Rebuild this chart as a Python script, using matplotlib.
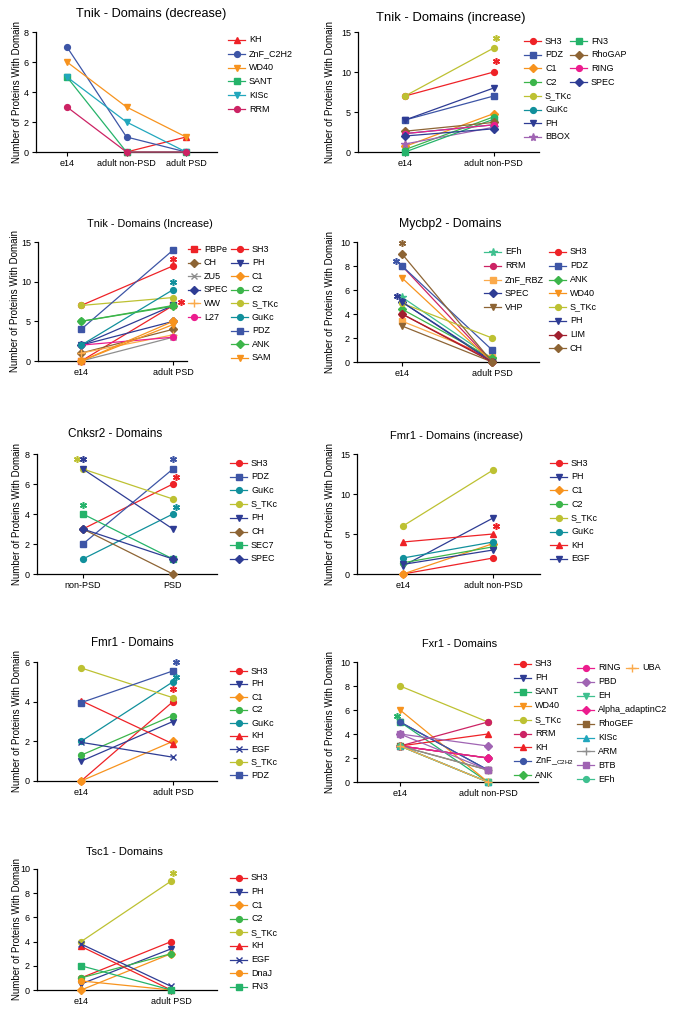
import numpy as np
import matplotlib.pyplot as plt
from matplotlib.lines import Line2D

plt.rcParams['font.family'] = ['Liberation Sans', 'DejaVu Sans']

nan = np.nan

# ---------------- data ----------------
tnik_dec_cats = ["e14", "adult non-PSD", "adult PSD"]
tnik_dec_domains = ["KH", "ZnF_C2H2", "WD40", "SANT", "KISc", "RRM"]
tnik_dec_counts = [[nan, 0, 1], [7, 1, 0], [6, 3, 1], [5, 0, 0], [5, 2, 0], [3, 0, 0]]
tnik_dec_stars = []

tnik_inc_cats = ["e14", "adult non-PSD"]
tnik_inc_domains = ["SH3", "PDZ", "C1", "C2", "S_TKc", "GuKc", "PH", "BBOX",
                    "FN3", "RhoGAP", "RING", "SPEC"]
tnik_inc_counts = [[7, 10], [4, 7], [0.7, 4.8], [0.3, 4.4], [7, 13], [2.3, 3.4],
                   [4, 8], [1, 3.1], [0, 4.1], [2.6, 3.7], [2.3, 3.4], [2, 2.9]]
tnik_inc_stars = [(1.02, 14.3, "S_TKc"), (1.03, 11.4, "SH3")]

tnik_psd_cats = ["e14", "adult PSD"]
tnik_psd_domains = ["PBPe", "CH", "ZU5", "SPEC", "WW", "L27",
                    "SH3", "PH", "C1", "C2", "S_TKc", "GuKc", "PDZ", "ANK", "SAM"]
tnik_psd_counts = [[0, 7], [1, 4], [0, 3], [2, 5], [1, 3.3], [2, 3],
                   [7, 12], [2, 7], [0, 5], [5, 7], [7, 8], [2, 9], [4, 14], [5, 6.9], [0, 4.6]]
tnik_psd_stars = [(1.0, 12.9, "SH3"), (1.0, 10.0, "GuKc"), (1.08, 7.4, "PBPe")]

mycbp2_cats = ["e14", "adult PSD"]
mycbp2_domains = ["EFh", "RRM", "ZnF_RBZ", "SPEC", "VHP",
                  "SH3", "PDZ", "ANK", "WD40", "S_TKc", "PH", "LIM", "CH"]
mycbp2_counts = [[5.4, 0.3], [8, 0], [3.4, 0.4], [5, 0.1], [3, 0],
                 [4, 0.1], [8, 1], [4.4, 0.3], [7, 0], [4.9, 2], [5, 0], [4, 0], [9, 0]]
mycbp2_stars = [(0.0, 9.9, "CH"), (-0.07, 8.4, "PDZ"), (-0.06, 5.5, "PH")]

cnksr2_cats = ["non-PSD", "PSD"]
cnksr2_domains = ["SH3", "PDZ", "GuKc", "S_TKc", "PH", "CH", "SEC7", "SPEC"]
cnksr2_counts = [[3, 6], [2, 7], [1, 4], [7, 5], [7, 3], [3, 0], [4, 1], [3, 1]]
cnksr2_stars = [(-0.07, 7.7, "S_TKc"), (0.0, 7.7, "PH"), (1.0, 7.7, "PDZ"),
                (1.03, 6.5, "SH3"), (1.03, 4.5, "GuKc"), (0.0, 4.6, "SEC7")]

fmr1_inc_cats = ["e14", "adult non-PSD"]
fmr1_inc_domains = ["SH3", "PH", "C1", "C2", "S_TKc", "GuKc", "KH", "EGF"]
fmr1_inc_counts = [[0, 2], [1, 7], [0, 3.8], [1.4, 3.4], [6, 13], [2, 4], [4, 5], [1.2, 3]]
fmr1_inc_stars = [(1.03, 6.0, "KH")]

fmr1_cats = ["e14", "adult PSD"]
fmr1_domains = ["SH3", "PH", "C1", "C2", "GuKc", "KH", "EGF", "S_TKc", "PDZ"]
fmr1_counts = [[0, 4], [1, 3], [0, 2], [1.3, 3.3], [2, 5], [4.05, 1.87],
               [1.95, 1.2], [5.7, 4.2], [3.95, 5.55]]
fmr1_stars = [(1.03, 6.0, "PDZ"), (1.03, 5.25, "GuKc"), (1.0, 4.65, "KH")]

fxr1_cats = ["e14", "adult non-PSD"]
fxr1_domains = ["SH3", "PH", "SANT", "WD40", "S_TKc", "RRM", "KH", "ZnF_C2H2", "ANK",
                "RING", "PBD", "EH", "Alpha_adaptinC2", "RhoGEF", "KISc", "ARM", "BTB", "EFh",
                "UBA"]
fxr1_counts = [[3, 2], [5, 1], [5, 0], [6, 0], [8, 5], [3, 5], [3, 4], [5, 1], [3, 2],
               [3, 2], [4, 3], [3, 0], [3, 2], [3, 1], [3, 0], [3, 1], [4, 1], [3, 0],
               [3, 0]]
fxr1_stars = [(-0.04, 5.5, "SANT")]

tsc1_cats = ["e14", "adult PSD"]
tsc1_domains = ["SH3", "PH", "C1", "C2", "S_TKc", "KH", "EGF", "DnaJ", "FN3"]
tsc1_counts = [[1, 4], [0.5, 3.4], [0, 3], [1, 3], [4, 9], [3.6, 0], [3.8, 0.3], [0.75, 0], [2, 0]]
tsc1_stars = [(1.02, 9.7, "S_TKc")]

# ---------------- styles ----------------
RED = '#EE2227'
NAVY = '#2E3C94'
BLUE = '#3D55A6'
ORANGE = '#F7931E'
LORANGE = '#FBAA4B'
GREEN = '#3CB54A'
SEAGREEN = '#25B36A'
MINT = '#3FC08F'
OLIVE = '#BDC132'
TEAL = '#11909C'
CYAN = '#22A7BD'
CRIMSON = '#CC2364'
PINK = '#EC1C8E'
BROWN = '#8D6434'
PURPLE = '#A064B3'
DARKRED = '#A0202E'
GRAY = '#8E8E8E'

STYLE = {
    "SH3": (RED, 'o'), "PDZ": (BLUE, 's'), "C1": (ORANGE, 'D'), "C2": (GREEN, 'o'),
    "S_TKc": (OLIVE, 'o'), "GuKc": (TEAL, 'o'), "PH": (NAVY, 'v'), "BBOX": (PURPLE, '*'),
    "FN3": (SEAGREEN, 's'), "RhoGAP": (BROWN, 'D'), "RING": (PINK, 'o'), "SPEC": (NAVY, 'D'),
    "KH": (RED, '^'), "ZnF_C2H2": (BLUE, 'o'), "WD40": (ORANGE, 'v'), "SANT": (SEAGREEN, 's'),
    "KISc": (CYAN, 'v'), "RRM": (CRIMSON, 'o'), "PBPe": (RED, 's'), "CH": (BROWN, 'D'),
    "ZU5": (GRAY, 'x'), "WW": (LORANGE, '+'), "L27": (PINK, 'o'), "ANK": (GREEN, 'D'),
    "SAM": (ORANGE, 'v'), "EFh": (MINT, '*'), "ZnF_RBZ": (LORANGE, 's'), "VHP": (BROWN, 'v'),
    "LIM": (DARKRED, 'D'), "SEC7": (SEAGREEN, 's'), "EGF": (NAVY, 'x'), "DnaJ": (ORANGE, 'o'),
    "PBD": (PURPLE, 'D'), "EH": (MINT, 'v'), "Alpha_adaptinC2": (PINK, 'D'),
    "RhoGEF": (BROWN, 's'), "ARM": (GRAY, '+'), "BTB": (PURPLE, 's'), "UBA": (LORANGE, '+'),
}
MS = {'o': 4.2, 's': 4.0, 'D': 3.6, 'v': 4.6, '^': 4.6, 'x': 4.6, '+': 5.2, '*': 5.8}

W, H = 683, 1011


def fx(px):
    return px / W


def fy(py):
    return 1 - py / H


def mstyle(name, over):
    return over.get(name, STYLE[name])


def draw_panel(fig, p):
    l, t, r, b = p["box"]
    ax = fig.add_axes([fx(l), fy(b), (r - l) / W, (b - t) / H])
    over = p.get("over", {})
    for name, vals in zip(p["domains"], p["counts"]):
        c, m = mstyle(name, over)
        ax.plot(range(len(p["cats"])), vals, color=c, marker=m, ms=MS[m], mew=1.0,
                lw=0.9, clip_on=False, zorder=3)
    for sx, sy, name in p["stars"]:
        c, _ = mstyle(name, over)
        ax.plot([sx], [sy], ls='none', marker=(6, 2, 0), ms=5, mew=1.1, color=c,
                clip_on=False, zorder=4)
    ax.set_xlim(*p["xlim"])
    ax.set_ylim(0, p["ytop"])
    ax.set_xticks(range(len(p["cats"])))
    ax.set_xticklabels(p["cats"])
    ax.set_yticks(np.arange(0, p["ytop"] + 0.01, p["ystep"]))
    for s in ["top", "right"]:
        ax.spines[s].set_visible(False)
    for s in ["left", "bottom"]:
        ax.spines[s].set_linewidth(0.9)
    ax.tick_params(length=3, width=0.8, labelsize=6.5, pad=2)

    fig.text(fx(p["ylx"]), fy((t + b) / 2), "Number of Proteins With Domain",
             rotation=90, ha='center', va='center', fontsize=7)
    cx, cy = p["tpos"]
    fig.text(fx(cx), fy(cy), p["title"], ha='center', va='center', fontsize=p["tsize"])

    for col in p["legend"]:
        x0, y0, names = col[0], col[1], col[2]
        ln = col[3] if len(col) > 3 else 17
        for i, name in enumerate(names):
            y = y0 + i * p["dy"]
            c, m = mstyle(name, over)
            fig.add_artist(Line2D([fx(x0), fx(x0 + ln)], [fy(y), fy(y)], color=c, lw=0.9))
            fig.add_artist(Line2D([fx(x0 + ln / 2)], [fy(y)], color=c, marker=m,
                                  ms=MS[m], mew=1.0))
            label = LABELS.get(name, name)
            fig.text(fx(x0 + ln + 4), fy(y), label, fontsize=6.5, va='center')
    return ax


LABELS = {}
FXR1_LABELS = {"ZnF_C2H2": "ZnF_$_{\\mathregular{C2H2}}$"}

panels = [
    dict(box=(36, 32, 217, 152), xlim=(-0.52, 2.52), ytop=8, ystep=2,
         cats=tnik_dec_cats, domains=tnik_dec_domains, counts=tnik_dec_counts,
         stars=tnik_dec_stars, title="Tnik - Domains (decrease)", tsize=9.2,
         tpos=(151, 14), ylx=17, dy=13.8,
         legend=[(228, 40, tnik_dec_domains)]),
    dict(box=(358, 32, 539, 152), xlim=(-0.53, 1.51), ytop=15, ystep=5,
         cats=tnik_inc_cats, domains=tnik_inc_domains, counts=tnik_inc_counts,
         stars=tnik_inc_stars, title="Tnik - Domains (increase)", tsize=9.4,
         tpos=(451, 18), ylx=330, dy=13.7,
         legend=[(524, 41, tnik_inc_domains[:8]), (570, 41, tnik_inc_domains[8:])]),
    dict(box=(38, 242, 187, 361), xlim=(-0.47, 1.15), ytop=15, ystep=5,
         cats=tnik_psd_cats, domains=tnik_psd_domains, counts=tnik_psd_counts,
         stars=tnik_psd_stars, title="Tnik - Domains (Increase)", tsize=7.8,
         tpos=(150, 224), ylx=15, dy=13.6,
         legend=[(188, 249, tnik_psd_domains[:6], 12), (231, 249, tnik_psd_domains[6:])]),
    dict(box=(357, 242, 539, 362), xlim=(-0.5, 1.52), ytop=10, ystep=2,
         cats=mycbp2_cats, domains=mycbp2_domains, counts=mycbp2_counts,
         stars=mycbp2_stars, title="Mycbp2 - Domains", tsize=8.8,
         tpos=(450, 224), ylx=330, dy=13.75,
         legend=[(484, 252, mycbp2_domains[:5]), (549, 252, mycbp2_domains[5:])]),
    dict(box=(37, 454, 217, 574), xlim=(-0.51, 1.49), ytop=8, ystep=2,
         cats=cnksr2_cats, domains=cnksr2_domains, counts=cnksr2_counts,
         stars=cnksr2_stars, title="Cnksr2 - Domains", tsize=8.5,
         tpos=(115, 434), ylx=17, dy=13.7,
         legend=[(230, 463, cnksr2_domains)]),
    dict(box=(357, 454, 540, 574), xlim=(-0.51, 1.52), ytop=15, ystep=5,
         cats=fmr1_inc_cats, domains=fmr1_inc_domains, counts=fmr1_inc_counts,
         stars=fmr1_inc_stars, title="Fmr1 - Domains (increase)", tsize=8.0,
         tpos=(456, 436), ylx=330, dy=13.7, over={"EGF": (NAVY, 'v')},
         legend=[(550, 463, fmr1_inc_domains)]),
    dict(box=(37, 662, 217, 781), xlim=(-0.48, 1.48), ytop=6, ystep=2,
         cats=fmr1_cats, domains=fmr1_domains, counts=fmr1_counts,
         stars=fmr1_stars, title="Fmr1 - Domains", tsize=8.3,
         tpos=(132, 643), ylx=17, dy=13.0,
         legend=[(230, 671, fmr1_domains)]),
    dict(box=(357, 662, 538, 782), xlim=(-0.49, 1.57), ytop=10, ystep=2,
         cats=fxr1_cats, domains=fxr1_domains, counts=fxr1_counts,
         stars=fxr1_stars, title="Fxr1 - Domains", tsize=7.9,
         tpos=(460, 644), ylx=330, dy=13.9,
         over={"KISc": (CYAN, '^'), "EFh": (MINT, 'o')},
         legend=[(514, 664, fxr1_domains[:9]), (577, 668, fxr1_domains[9:18]),
                 (626, 668, fxr1_domains[18:], 12)]),
    dict(box=(37, 869, 217, 990), xlim=(-0.49, 1.51), ytop=10, ystep=2,
         cats=tsc1_cats, domains=tsc1_domains, counts=tsc1_counts,
         stars=tsc1_stars, title="Tsc1 - Domains", tsize=8.0,
         tpos=(124, 852), ylx=17, dy=13.6,
         legend=[(230, 878, tsc1_domains)]),
]

fig = plt.figure(figsize=(W / 100, H / 100), dpi=100)
for i, p in enumerate(panels):
    LABELS = FXR1_LABELS if i == 7 else {}
    draw_panel(fig, p)

fig.savefig("out.png", dpi=100)
